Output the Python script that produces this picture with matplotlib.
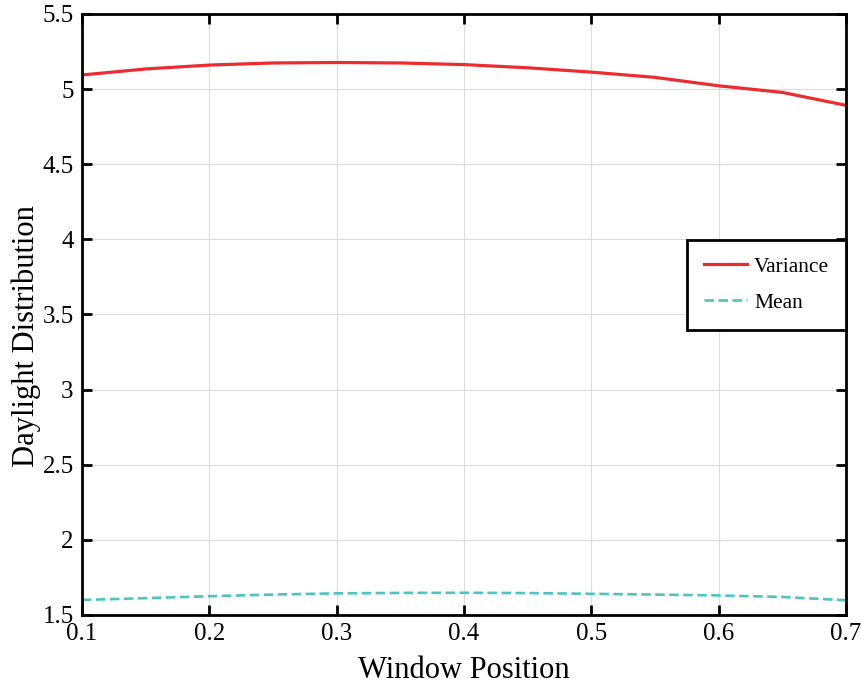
import matplotlib.pyplot as plt

plt.rcParams['font.family'] = ['Liberation Serif', 'DejaVu Serif']

x = [0.1, 0.15, 0.2, 0.25, 0.3, 0.35, 0.4, 0.45, 0.5, 0.55, 0.6, 0.65, 0.7]
variance = [5.094, 5.134, 5.160, 5.174, 5.177, 5.174, 5.163, 5.142, 5.113, 5.078, 5.022, 4.978, 4.892]
mean = [1.600, 1.612, 1.625, 1.636, 1.644, 1.647, 1.648, 1.646, 1.641, 1.636, 1.630, 1.620, 1.598]

xticks = [0.1, 0.2, 0.3, 0.4, 0.5, 0.6, 0.7]
yticks = [1.5, 2, 2.5, 3, 3.5, 4, 4.5, 5, 5.5]

fig = plt.figure(figsize=(8.61, 6.85), dpi=100)
ax = fig.add_axes([0.0952, 0.1022, 0.8874, 0.8774])

ax.plot(x, variance, color='#EE2B2F', lw=2.3, label='Variance')
ax.plot(x, mean, color='#4CC4C6', lw=1.9, ls=(0, (3.6, 1.7)), label='Mean')

ax.set_xlim(0.1, 0.7)
ax.set_ylim(1.5, 5.5)
ax.set_xticks(xticks)
ax.set_xticklabels([str(t) for t in xticks])
ax.set_yticks(yticks)
ax.set_yticklabels(['1.5', '2', '2.5', '3', '3.5', '4', '4.5', '5', '5.5'])
ax.grid(True, color='#DCDCDC', lw=0.8)
ax.set_axisbelow(True)

for s in ax.spines.values():
    s.set_linewidth(2.0)
ax.tick_params(direction='in', length=7, width=2, top=True, right=True,
               labelsize=18, pad=6)

ax.set_xlabel('Window Position', fontsize=22, labelpad=8)
ax.set_ylabel('Daylight Distribution', fontsize=22)
ax.yaxis.set_label_coords(-0.054, 0.464)

leg = ax.legend(loc='upper right', bbox_to_anchor=(1.0, 0.624), borderaxespad=0,
                fontsize=15.5, fancybox=False, framealpha=1, edgecolor='black',
                borderpad=0.78, labelspacing=0.75, handlelength=2.0,
                handletextpad=0.32)
leg.get_frame().set_linewidth(2.0)

fig.savefig('out.png', dpi=100)
